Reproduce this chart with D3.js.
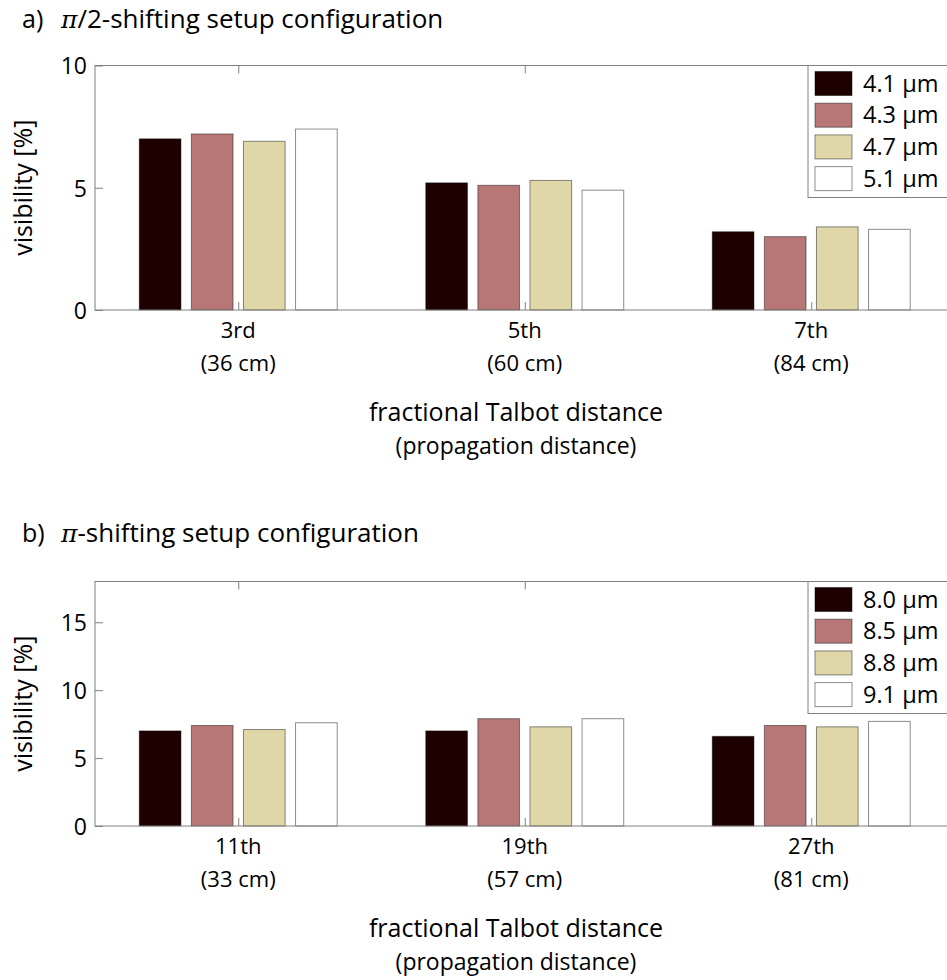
<!DOCTYPE html>
<html>
<head>
<meta charset="utf-8">
<script src="https://cdn.jsdelivr.net/npm/d3@7"></script>
<style>
  html, body { margin: 0; padding: 0; background: #fff; }
  svg { display: block; }
  text { font-family: "Open Sans", sans-serif; fill: #000; }
</style>
</head>
<body>
<svg id="chart" width="947" height="980"></svg>
<script>
// ---- data ----------------------------------------------------------
const seriesColors = ["#1f0000", "#b87777", "#e0d7a8", "#ffffff"];

const topCategories = ["3rd", "5th", "7th"];
const topDistances = ["(36 cm)", "(60 cm)", "(84 cm)"];
const topSeries = ["4.1 µm", "4.3 µm", "4.7 µm", "5.1 µm"];
const topValues = [
  [7.0, 5.2, 3.2],
  [7.2, 5.1, 3.0],
  [6.9, 5.3, 3.4],
  [7.4, 4.9, 3.3]
];
const topTicks = [0, 5, 10];

const bottomCategories = ["11th", "19th", "27th"];
const bottomDistances = ["(33 cm)", "(57 cm)", "(81 cm)"];
const bottomSeries = ["8.0 µm", "8.5 µm", "8.8 µm", "9.1 µm"];
const bottomValues = [
  [7.0, 7.0, 6.6],
  [7.4, 7.9, 7.4],
  [7.1, 7.3, 7.3],
  [7.6, 7.9, 7.7]
];
const bottomTicks = [0, 5, 10, 15];

// ---- drawing -------------------------------------------------------
const svg = d3.select("#chart");
const axisColor = "#808080";

function drawPanel(opt) {
  const left = 95, right = 954.5;
  const top = opt.top, bottom = opt.bottom;
  const g = svg.append("g");

  // panel title: letter, then italic pi and the rest
  g.append("text").attr("x", 22).attr("y", opt.titleY)
    .style("font-size", "25px").text(opt.prefix);
  const title = g.append("text")
    .attr("x", 61).attr("y", opt.titleY)
    .style("font-size", "26px");
  title.append("tspan").text("\u03c0")
    .style("font-family", "'DejaVu Serif', serif")
    .style("font-style", "italic").style("font-size", "25px");
  title.append("tspan").text(opt.rest);

  const nCat = opt.categories.length;
  const x = d3.scaleLinear().domain([0.5, nCat + 0.5]).range([left, right]);
  const y = d3.scaleLinear().domain([0, opt.yMax]).range([bottom, top]);

  // grouped bar layout (group width 0.727, bar width 80% of slot)
  const nSer = opt.values.length;
  const groupW = Math.min(0.8, nSer / (nSer + 1.5));
  const slot = groupW / nSer;
  const barW = slot * 0.8;

  opt.values.forEach((vals, s) => {
    g.selectAll(null).data(vals).enter().append("rect")
      .attr("x", (d, i) => x(i + 1 + (s - (nSer - 1) / 2) * slot - barW / 2))
      .attr("width", x(barW) - x(0))
      .attr("y", d => y(d))
      .attr("height", d => y(0) - y(d))
      .attr("fill", seriesColors[s])
      .attr("stroke", "rgba(0,0,0,0.45)")
      .attr("stroke-width", 1);
  });

  // box
  g.append("rect")
    .attr("x", left).attr("y", top)
    .attr("width", right - left).attr("height", bottom - top)
    .attr("fill", "none").attr("stroke", axisColor).attr("stroke-width", 1);

  // y axis (ticks inside)
  const yAxis = d3.axisLeft(y).tickValues(opt.ticks).tickSize(-8);
  const ya = g.append("g").attr("transform", `translate(${left},0)`).call(yAxis);
  ya.select(".domain").remove();
  ya.selectAll(".tick line").attr("stroke", axisColor);
  ya.selectAll(".tick text").style("font-size", "23px").style("font-family", "'Open Sans', sans-serif")
    .attr("fill", "#000").attr("x", -8).attr("dy", "0.36em");

  // x axis: ticks inside at bottom and top
  const cats = d3.range(1, nCat + 1);
  const xAxis = d3.axisBottom(x).tickValues(cats).tickSize(-8).tickFormat("");
  const xa = g.append("g").attr("transform", `translate(0,${bottom})`).call(xAxis);
  xa.select(".domain").remove();
  xa.selectAll(".tick line").attr("stroke", axisColor);
  const xt = g.append("g").attr("transform", `translate(0,${top})`).call(d3.axisTop(x).tickValues(cats).tickSize(-8).tickFormat(""));
  xt.select(".domain").remove();
  xt.selectAll(".tick line").attr("stroke", axisColor);

  // category labels, two lines
  g.selectAll(null).data(opt.categories).enter().append("text")
    .attr("x", (d, i) => x(i + 1)).attr("y", bottom + 28)
    .attr("text-anchor", "middle").style("font-size", "22px").text(d => d);
  g.selectAll(null).data(opt.distances).enter().append("text")
    .attr("x", (d, i) => x(i + 1)).attr("y", bottom + 61)
    .attr("text-anchor", "middle").style("font-size", "22px").text(d => d);

  // axis titles
  const cx = 516;
  g.append("text").attr("x", cx).attr("y", bottom + 111)
    .attr("text-anchor", "middle").style("font-size", "25px").text("fractional Talbot distance");
  g.append("text").attr("x", cx).attr("y", bottom + 144)
    .attr("text-anchor", "middle").style("font-size", "23px").text("(propagation distance)");
  g.append("text")
    .attr("transform", `translate(32,${(top + bottom) / 2}) rotate(-90)`)
    .attr("text-anchor", "middle").style("font-size", "25px").text("visibility [%]");

  // legend
  const lx = 808, ly = top, rowH = 31.7;
  const lg = g.append("g");
  lg.append("rect").attr("x", lx).attr("y", ly)
    .attr("width", 160).attr("height", 132)
    .attr("fill", "#fff").attr("stroke", axisColor);
  opt.series.forEach((name, s) => {
    lg.append("rect")
      .attr("x", lx + 7).attr("y", ly + 6 + s * rowH)
      .attr("width", 37).attr("height", 24)
      .attr("fill", seriesColors[s])
      .attr("stroke", "rgba(0,0,0,0.45)");
    lg.append("text")
      .attr("x", lx + 55).attr("y", ly + 26 + s * rowH)
      .style("font-size", "23.5px").text(name);
  });
}

drawPanel({
  top: 65.5, bottom: 310, yMax: 10, ticks: topTicks, titleY: 28,
  prefix: "a)", rest: "/2-shifting setup configuration",
  categories: topCategories, distances: topDistances,
  series: topSeries, values: topValues
});

drawPanel({
  top: 581.5, bottom: 826, yMax: 18, ticks: bottomTicks, titleY: 542,
  prefix: "b)", rest: "-shifting setup configuration",
  categories: bottomCategories, distances: bottomDistances,
  series: bottomSeries, values: bottomValues
});
</script>
</body>
</html>
